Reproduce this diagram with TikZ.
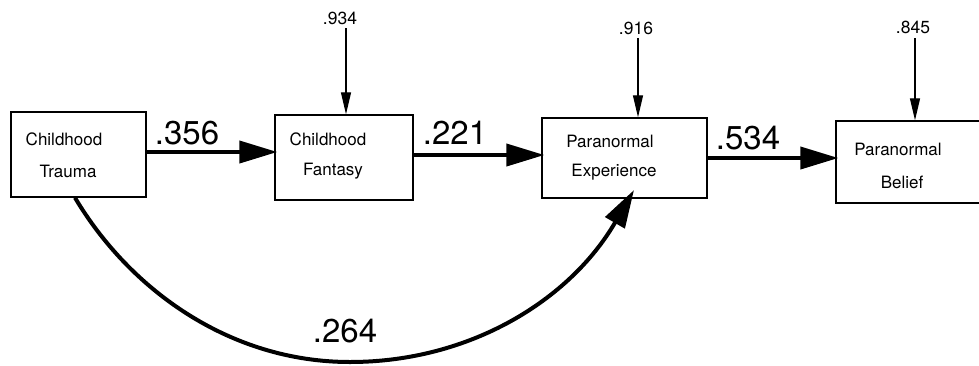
\documentclass[tikz,border=0pt]{standalone}
\usepackage{fontspec}
\setmainfont{TeX Gyre Heros}
\usetikzlibrary{arrows.meta}
\begin{document}
\begin{tikzpicture}[x=1pt,y=-1pt,
  box/.style={draw,line width=1.4pt,inner sep=0pt},
  lbl/.style={inner sep=0pt,font=\fontsize{17}{20}\selectfont},
  big/.style={inner sep=0pt,font=\fontsize{33}{36}\selectfont},
  small/.style={inner sep=0pt,font=\fontsize{17.5}{19}\selectfont},
  path/.style={line width=4pt,-{Triangle[length=38pt,width=22pt]}},
  err/.style={line width=1.3pt,-{Triangle[length=22pt,width=10pt]}}]
\useasboundingbox (0,0) rectangle (979,365);
\clip (0,0) rectangle (979,365);
% boxes
\node[box,minimum width=135pt,minimum height=85pt] (trauma) at (78.5,154.5) {};
\node[box,minimum width=138pt,minimum height=85pt] (fantasy) at (344,157.5) {};
\node[box,minimum width=165pt,minimum height=80pt] (exper) at (624.5,158) {};
\node[box,minimum width=154pt,minimum height=82pt] (belief) at (913,162) {};
% box texts
\node[lbl] (t1) at (64,139) {Childhood};
\node[lbl] (t2) at (68,171) {Trauma};
\node[lbl] (f1) at (328,139) {Childhood};
\node[lbl] (f2) at (333,171) {Fantasy};
\node[lbl] (e1) at (610,141) {Paranormal};
\node[lbl] (e2) at (614,172) {Experience};
\node[lbl] (b1) at (898,149) {Paranormal};
\node[lbl] (b2) at (902,182) {Belief};
% path coefficients
\node[big] (c1) at (187,133) {.356};
\node[big] (c2) at (455,133) {.221};
\node[big] (c3) at (748,138) {.534};
\node[big] (c4) at (345,331) {.264};
% error terms
\node[small] (r1) at (340,18) {.934};
\node[small] (r2) at (636,28) {.916};
\node[small] (r3) at (913,27) {.845};
\coordinate (r1e) at (346,28);
\coordinate (r2e) at (638,38);
\coordinate (r3e) at (915,38);
\draw[err] (r1e) -- (r1e |- fantasy.north);
\draw[err] (r2e) -- (r2e |- exper.north);
\draw[err] (r3e) -- (r3e |- belief.north);
% arrows
\draw[path] (trauma.east |- 0,152) -- ([xshift=3pt]fantasy.west |- 0,152);
\draw[path] (fantasy.east |- 0,155) -- ([xshift=3pt]exper.west |- 0,155);
\draw[path] (exper.east |- 0,158) -- ([xshift=3pt]belief.west |- 0,158);
\coordinate (cs) at (75,197);
\coordinate (ce) at (634,190);
\draw[path] (trauma.south -| cs) .. controls (130,290) and (230,362) .. (350,362)
  .. controls (470,362) and (570,300) .. (ce);
\end{tikzpicture}
\end{document}
